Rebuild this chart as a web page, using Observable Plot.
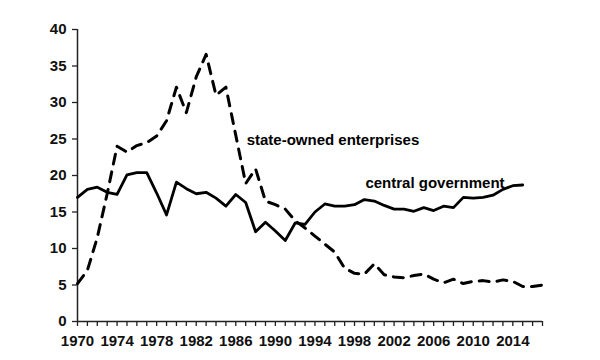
<!DOCTYPE html>
<html>
<head>
<meta charset="utf-8">
<script src="https://cdn.jsdelivr.net/npm/d3@7"></script>
<script src="https://cdn.jsdelivr.net/npm/@observablehq/plot@0.6"></script>
<style>
  html, body { margin: 0; padding: 0; background: #fff; }
</style>
</head>
<body>
<div id="chart"></div>
<script>
const centralYears = [1970,1971,1972,1973,1974,1975,1976,1977,1978,1979,1980,1981,1982,1983,1984,1985,1986,1987,1988,1989,1990,1991,1992,1993,1994,1995,1996,1997,1998,1999,2000,2001,2002,2003,2004,2005,2006,2007,2008,2009,2010,2011,2012,2013,2014,2015];
const centralGov = [17.0,18.1,18.4,17.7,17.4,20.1,20.4,20.4,17.6,14.6,19.1,18.2,17.5,17.7,16.9,15.8,17.4,16.3,12.3,13.6,12.4,11.1,13.5,13.3,15.0,16.1,15.8,15.8,16.0,16.7,16.5,15.9,15.4,15.4,15.1,15.6,15.2,15.8,15.6,17.0,16.9,17.0,17.3,18.1,18.6,18.7];
const soeYears = [1970,1971,1972,1973,1974,1975,1976,1977,1978,1979,1980,1981,1982,1983,1984,1985,1986,1987,1988,1989,1990,1991,1992,1993,1994,1995,1996,1997,1998,1999,2000,2001,2002,2003,2004,2005,2006,2007,2008,2009,2010,2011,2012,2013,2014,2015,2016,2017];
const soe = [5.2,7.0,11.5,17.5,24.0,23.2,24.1,24.5,25.4,27.5,32.1,28.6,33.5,36.6,31.0,32.1,25.5,18.9,20.9,16.5,16.0,15.4,13.8,12.8,11.7,10.6,9.5,7.3,6.6,6.5,7.9,6.4,6.1,6.0,6.3,6.5,5.8,5.3,5.8,5.2,5.5,5.6,5.4,5.7,5.5,4.8,4.8,5.0];
const yTicks = [0,5,10,15,20,25,30,35,40];
const xLabelTicks = [1970,1974,1978,1982,1986,1990,1994,1998,2002,2006,2010,2014];
const seriesLabels = ["state-owned enterprises", "central government"];
const labelX = [1987.1, 1999.1];
const labelY = [24.9, 18.9];

const centralData = centralYears.map((y, i) => ({year: y, value: centralGov[i]}));
const soeData = soeYears.map((y, i) => ({year: y, value: soe[i]}));
const labelData = seriesLabels.map((t, i) => ({text: t, x: labelX[i], y: labelY[i]}));

const chart = Plot.plot({
  width: 600,
  height: 360,
  marginLeft: 77,
  marginRight: 58,
  marginTop: 29,
  marginBottom: 39,
  style: {fontFamily: "'Liberation Sans', Arial, sans-serif", fontSize: "15px", fontWeight: "bold", color: "#000", background: "#fff"},
  x: {domain: [1970, 2017]},
  y: {domain: [0, 40]},
  marks: [
    Plot.axisY({ticks: yTicks, tickSize: 5, tickPadding: 6, label: null, stroke: "#222", fill: "#111", strokeWidth: 1.3}),
    Plot.axisX({ticks: soeYears, tickSize: 5, tickFormat: () => "", label: null, stroke: "#222", strokeWidth: 1.3}),
    Plot.axisX({ticks: xLabelTicks, tickSize: 0, tickPadding: 14, tickFormat: "d", label: null, fill: "#111"}),
    Plot.ruleY([0], {stroke: "#222", strokeWidth: 1.5}),
    Plot.ruleX([1970], {stroke: "#222", strokeWidth: 1.5}),
    Plot.line(soeData, {x: "year", y: "value", stroke: "#000", strokeWidth: 3, strokeDasharray: "10,8"}),
    Plot.line(centralData, {x: "year", y: "value", stroke: "#000", strokeWidth: 2.8}),
    Plot.text(labelData, {x: "x", y: "y", text: "text", textAnchor: "start", fill: "#000", fontSize: 15, fontWeight: "bold"})
  ]
});
document.getElementById("chart").appendChild(chart);
</script>
</body>
</html>
